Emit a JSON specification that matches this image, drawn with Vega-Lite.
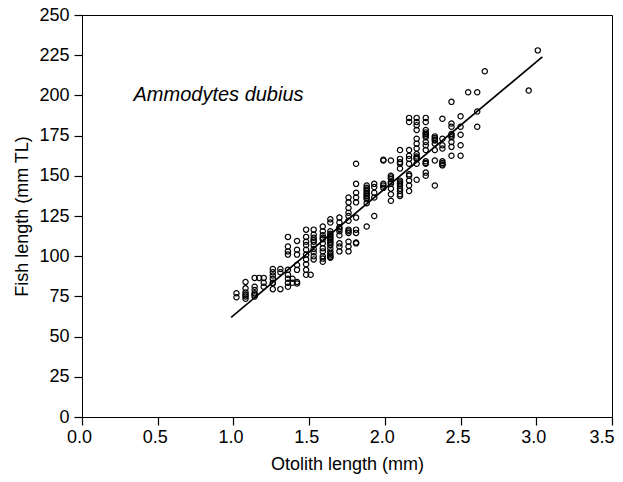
{
  "$schema": "https://vega.github.io/schema/vega-lite/v6.json",
  "width": 530,
  "height": 402,
  "autosize": {"type": "none"},
  "padding": {"left": 82, "top": 15, "right": 11, "bottom": 65},
  "background": "white",
  "config": {
    "view": {"stroke": "black", "strokeWidth": 1},
    "font": "Liberation Sans",
    "axis": {
      "grid": false,
      "domainColor": "black",
      "domainWidth": 1,
      "tickColor": "black",
      "tickWidth": 1.2,
      "labelColor": "black",
      "titleColor": "black",
      "labelFont": "Liberation Sans",
      "titleFont": "Liberation Sans",
      "labelFontSize": 18,
      "titleFontSize": 18,
      "titleFontWeight": "normal"
    }
  },
  "datasets": {
    "pts": [
      {"x":1.02,"y":77},{"x":1.02,"y":74.5},
      {"x":1.08,"y":84},{"x":1.08,"y":80},{"x":1.08,"y":77.5},{"x":1.08,"y":76},{"x":1.08,"y":75},{"x":1.08,"y":73.5},
      {"x":1.14,"y":86.5},{"x":1.14,"y":81},{"x":1.14,"y":79},{"x":1.14,"y":77},{"x":1.14,"y":76},{"x":1.14,"y":75},
      {"x":1.17,"y":86.5},
      {"x":1.2,"y":86.5},{"x":1.2,"y":83.5},{"x":1.2,"y":81},
      {"x":1.26,"y":92},{"x":1.26,"y":90},{"x":1.26,"y":88},{"x":1.26,"y":86},{"x":1.26,"y":83.5},{"x":1.26,"y":83},{"x":1.26,"y":79.5},
      {"x":1.31,"y":92},{"x":1.31,"y":90},{"x":1.31,"y":79.5},
      {"x":1.36,"y":91.5},{"x":1.36,"y":88.5},{"x":1.36,"y":86},{"x":1.36,"y":83.5},{"x":1.36,"y":81},{"x":1.36,"y":112},{"x":1.36,"y":106},{"x":1.36,"y":103},{"x":1.36,"y":101},
      {"x":1.39,"y":86},{"x":1.39,"y":83.5},
      {"x":1.42,"y":84},{"x":1.42,"y":83},{"x":1.42,"y":94.5},{"x":1.42,"y":91.5},{"x":1.42,"y":109.5},{"x":1.42,"y":104},{"x":1.42,"y":101},
      {"x":1.48,"y":116.5},{"x":1.48,"y":112},{"x":1.48,"y":109},{"x":1.48,"y":107},{"x":1.48,"y":104},{"x":1.48,"y":101},{"x":1.48,"y":98},{"x":1.48,"y":95},{"x":1.48,"y":91.5},{"x":1.48,"y":88.5},
      {"x":1.51,"y":88.5},
      {"x":1.53,"y":116.5},{"x":1.53,"y":113.5},{"x":1.53,"y":111.5},{"x":1.53,"y":110},{"x":1.53,"y":109},{"x":1.53,"y":107},{"x":1.53,"y":104.5},{"x":1.53,"y":102.5},{"x":1.53,"y":100},{"x":1.53,"y":98},
      {"x":1.59,"y":118.5},{"x":1.59,"y":115.5},{"x":1.59,"y":113},{"x":1.59,"y":111.5},{"x":1.59,"y":110.5},{"x":1.59,"y":108},{"x":1.59,"y":105},{"x":1.59,"y":103},{"x":1.59,"y":100},{"x":1.59,"y":98.5},{"x":1.59,"y":96.5},
      {"x":1.64,"y":123},{"x":1.64,"y":121},{"x":1.64,"y":115.5},{"x":1.64,"y":114},{"x":1.64,"y":113},{"x":1.64,"y":112},{"x":1.64,"y":111},{"x":1.64,"y":110},{"x":1.64,"y":109},{"x":1.64,"y":108},{"x":1.64,"y":107},{"x":1.64,"y":105},{"x":1.64,"y":103},{"x":1.64,"y":101.5},{"x":1.64,"y":100.5},{"x":1.64,"y":99.5},{"x":1.64,"y":99},
      {"x":1.7,"y":124},{"x":1.7,"y":121},{"x":1.7,"y":118},{"x":1.7,"y":117},{"x":1.7,"y":115.5},{"x":1.7,"y":113},{"x":1.7,"y":108},{"x":1.7,"y":106},{"x":1.7,"y":103},
      {"x":1.76,"y":136.5},{"x":1.76,"y":133.5},{"x":1.76,"y":130},{"x":1.76,"y":127},{"x":1.76,"y":125},{"x":1.76,"y":122},{"x":1.76,"y":116.5},{"x":1.76,"y":115.5},{"x":1.76,"y":114.5},{"x":1.76,"y":109},{"x":1.76,"y":106},{"x":1.76,"y":103},
      {"x":1.81,"y":157.5},{"x":1.81,"y":145},{"x":1.81,"y":139.5},{"x":1.81,"y":136.5},{"x":1.81,"y":133.5},{"x":1.81,"y":124},{"x":1.81,"y":116.5},{"x":1.81,"y":114.5},{"x":1.81,"y":108.5},{"x":1.81,"y":108},
      {"x":1.88,"y":144},{"x":1.88,"y":142.5},{"x":1.88,"y":141.5},{"x":1.88,"y":140.5},{"x":1.88,"y":139.5},{"x":1.88,"y":138.5},{"x":1.88,"y":137.5},{"x":1.88,"y":136.5},{"x":1.88,"y":135.5},{"x":1.88,"y":133},{"x":1.88,"y":118.5},
      {"x":1.93,"y":145},{"x":1.93,"y":143},{"x":1.93,"y":139.5},{"x":1.93,"y":136.5},{"x":1.93,"y":125},
      {"x":1.99,"y":160},{"x":1.99,"y":159.5},{"x":1.99,"y":145},{"x":1.99,"y":144},{"x":1.99,"y":142.5},
      {"x":2.04,"y":159.5},{"x":2.04,"y":150},{"x":2.04,"y":149},{"x":2.04,"y":148},{"x":2.04,"y":146},{"x":2.04,"y":145},{"x":2.04,"y":142},{"x":2.04,"y":138.5},{"x":2.04,"y":134.5},
      {"x":2.1,"y":166},{"x":2.1,"y":160.5},{"x":2.1,"y":158.5},{"x":2.1,"y":157.5},{"x":2.1,"y":154.5},{"x":2.1,"y":147},{"x":2.1,"y":146},{"x":2.1,"y":145},{"x":2.1,"y":144},{"x":2.1,"y":142},{"x":2.1,"y":140.5},{"x":2.1,"y":138.5},{"x":2.1,"y":137.5},
      {"x":2.16,"y":186},{"x":2.16,"y":183.5},{"x":2.16,"y":166},{"x":2.16,"y":162.5},{"x":2.16,"y":160.5},{"x":2.16,"y":157.5},{"x":2.16,"y":151},{"x":2.16,"y":150},{"x":2.16,"y":147},{"x":2.16,"y":144},{"x":2.16,"y":140.5},
      {"x":2.21,"y":186},{"x":2.21,"y":183.5},{"x":2.21,"y":181.5},{"x":2.21,"y":178.5},{"x":2.21,"y":173},{"x":2.21,"y":170},{"x":2.21,"y":167},{"x":2.21,"y":163.5},{"x":2.21,"y":162},{"x":2.21,"y":161},{"x":2.21,"y":160.5},{"x":2.21,"y":157.5},{"x":2.21,"y":147.5},
      {"x":2.27,"y":186},{"x":2.27,"y":183.5},{"x":2.27,"y":178.5},{"x":2.27,"y":177},{"x":2.27,"y":176},{"x":2.27,"y":175},{"x":2.27,"y":174},{"x":2.27,"y":171},{"x":2.27,"y":169},{"x":2.27,"y":166},{"x":2.27,"y":159},{"x":2.27,"y":158},{"x":2.27,"y":157.5},{"x":2.27,"y":152},{"x":2.27,"y":150},
      {"x":2.33,"y":174.5},{"x":2.33,"y":173.5},{"x":2.33,"y":172.5},{"x":2.33,"y":172},{"x":2.33,"y":170},{"x":2.33,"y":166},{"x":2.33,"y":159.5},{"x":2.33,"y":144},
      {"x":2.38,"y":185.5},{"x":2.38,"y":173},{"x":2.38,"y":169},{"x":2.38,"y":167},{"x":2.38,"y":159},{"x":2.38,"y":158},{"x":2.38,"y":157},{"x":2.38,"y":156.5},
      {"x":2.44,"y":196},{"x":2.44,"y":182.5},{"x":2.44,"y":180.5},{"x":2.44,"y":176},{"x":2.44,"y":175},{"x":2.44,"y":174},{"x":2.44,"y":171},{"x":2.44,"y":168},{"x":2.44,"y":162.5},
      {"x":2.5,"y":187},{"x":2.5,"y":180.5},{"x":2.5,"y":175.5},{"x":2.5,"y":169},{"x":2.5,"y":162.5},
      {"x":2.55,"y":202},
      {"x":2.61,"y":202},{"x":2.61,"y":190},{"x":2.61,"y":180.5},
      {"x":2.66,"y":215},
      {"x":2.95,"y":203},
      {"x":3.01,"y":228}
    ],
    "fit": [{"x":0.985,"y":62},{"x":3.04,"y":224}],
    "label": [{"x":0.34,"y":200,"t":"Ammodytes dubius"}]
  },
  "layer": [
    {
      "data": {"name": "pts"},
      "mark": {"type": "point", "shape": "circle", "filled": false, "stroke": "black", "strokeWidth": 1.2, "size": 28, "opacity": 1},
      "encoding": {
        "x": {
          "field": "x", "type": "quantitative",
          "scale": {"domain": [0, 3.5], "nice": false, "zero": false},
          "axis": {
            "title": "Otolith length (mm)",
            "values": [0,0.25,0.5,0.75,1,1.25,1.5,1.75,2,2.25,2.5,2.75,3,3.25,3.5],
            "labelExpr": "datum.value % 0.5 == 0 ? format(datum.value, '.1f') : ''",
            "tickSize": {"condition": {"test": "datum.value % 0.5 == 0", "value": 8}, "value": 4},
            "labelAlign": {"condition": {"test": "datum.value == 3.5", "value": "right"}, "value": "center"},
            "labelOffset": {"condition": {"test": "datum.value == 3.5", "value": 2}, "value": -3},
            "labelPadding": 3,
            "titlePadding": 9,
            "labelFlush": false,
            "labelOverlap": false
          }
        },
        "y": {
          "field": "y", "type": "quantitative",
          "scale": {"domain": [0, 250], "nice": false, "zero": false},
          "axis": {
            "title": "Fish length (mm TL)",
            "values": [0,25,50,75,100,125,150,175,200,225,250],
            "tickSize": 8,
            "labelPadding": 5,
            "titlePadding": 7,
            "labelFlush": false,
            "labelOverlap": false
          }
        }
      }
    },
    {
      "data": {"name": "fit"},
      "mark": {"type": "line", "color": "black", "strokeWidth": 1.7},
      "encoding": {
        "x": {"field": "x", "type": "quantitative"},
        "y": {"field": "y", "type": "quantitative"}
      }
    },
    {
      "data": {"name": "label"},
      "mark": {"type": "text", "align": "left", "baseline": "middle", "fontStyle": "italic", "fontSize": 20, "font": "Liberation Sans", "color": "black"},
      "encoding": {
        "x": {"field": "x", "type": "quantitative"},
        "y": {"field": "y", "type": "quantitative"},
        "text": {"field": "t"}
      }
    }
  ]
}
